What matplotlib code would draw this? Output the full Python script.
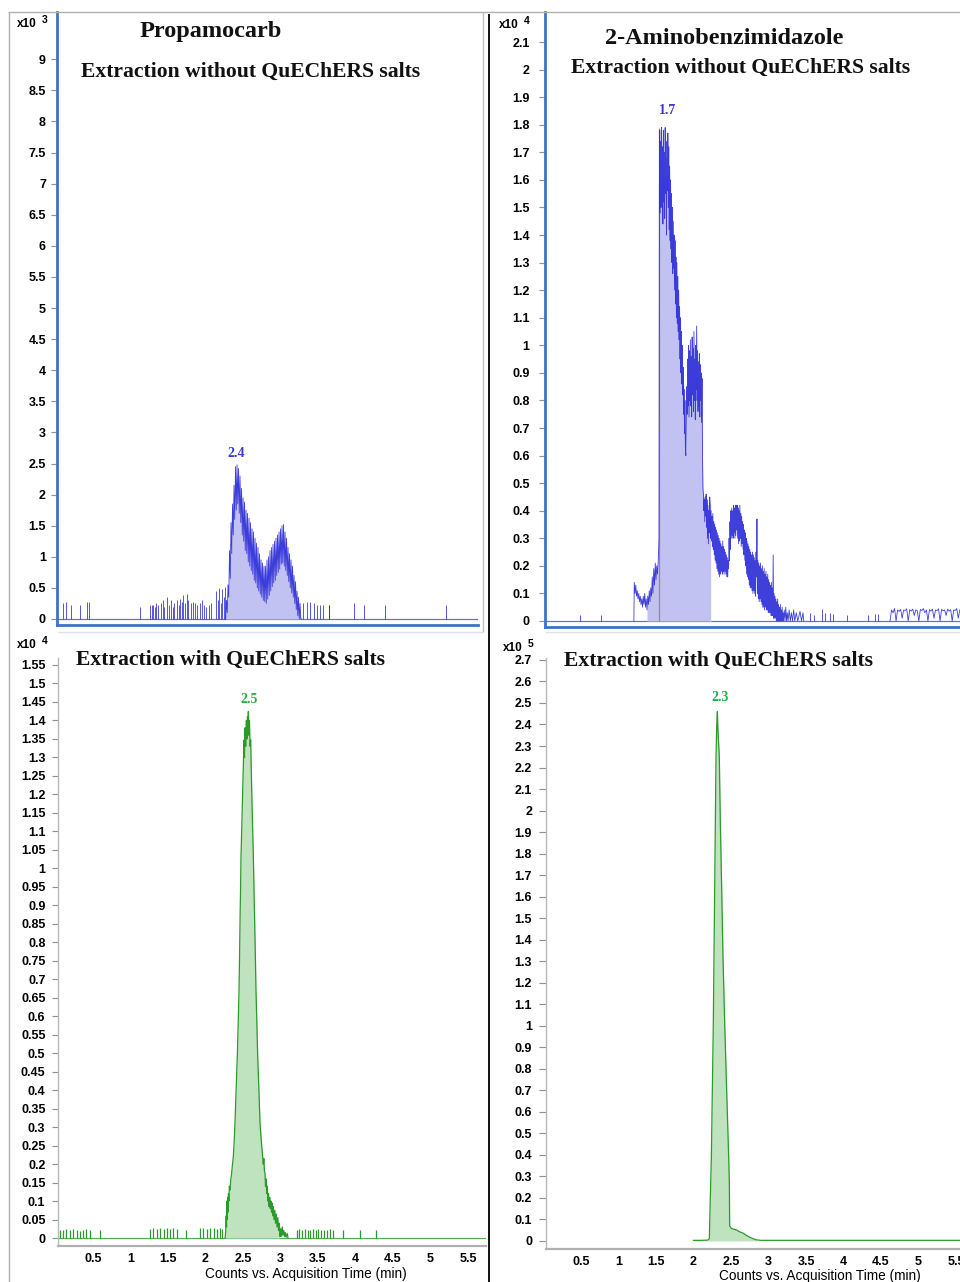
import numpy as np
import matplotlib
matplotlib.use("Agg")
import matplotlib.pyplot as plt
from matplotlib.lines import Line2D

plt.rcParams['font.family'] = ['Liberation Sans', 'DejaVu Sans']

W, H = 960, 1282

# ---------------------------------------------------------------- data
x_ticks = [0.5, 1, 1.5, 2, 2.5, 3, 3.5, 4, 4.5, 5, 5.5]

# Propamocarb, extraction without QuEChERS salts (counts x10^3)
tl_spike_t = [0.10, 0.14, 0.20, 0.33, 0.42, 0.45, 1.13, 1.26, 1.28, 1.30, 1.32, 1.34,
              1.36, 1.40, 1.43, 1.45, 1.49, 1.51, 1.54, 1.56, 1.58, 1.62, 1.64, 1.66,
              1.68, 1.70, 1.72, 1.75, 1.77, 1.80, 1.83, 1.86, 1.89, 1.92, 1.95, 1.98,
              2.01, 2.04, 2.07, 2.14, 2.16, 2.18, 2.20, 2.22, 2.24, 2.26, 3.30, 3.35,
              3.39, 3.44, 3.48, 3.52, 3.56, 3.64, 3.65, 3.98, 4.11, 4.39, 5.20]
tl_spike_h = [0.25, 0.27, 0.22, 0.22, 0.27, 0.27, 0.20, 0.22, 0.22, 0.22, 0.20, 0.25,
              0.22, 0.25, 0.30, 0.20, 0.35, 0.22, 0.30, 0.20, 0.25, 0.30, 0.22, 0.32,
              0.28, 0.38, 0.25, 0.40, 0.30, 0.25, 0.28, 0.25, 0.22, 0.25, 0.30, 0.22,
              0.20, 0.22, 0.25, 0.45, 0.30, 0.50, 0.25, 0.48, 0.35, 0.52, 0.25, 0.27,
              0.27, 0.25, 0.22, 0.22, 0.22, 0.22, 0.22, 0.25, 0.22, 0.22, 0.22]
tl_peak_start, tl_peak_end = 2.27, 3.28
tl_peak_v = [0.00, 0.30, 0.10, 0.55, 0.35, 1.10, 0.65, 1.55, 1.05, 1.85,
             1.35, 2.15, 1.60, 2.45, 1.75, 2.48, 1.85, 2.42, 1.70, 2.30,
             1.55, 2.10, 1.35, 1.95, 1.25, 1.88, 1.10, 1.75, 1.05, 1.70,
             0.92, 1.62, 0.85, 1.55, 0.78, 1.45, 0.72, 1.40, 0.62, 1.30,
             0.58, 1.22, 0.50, 1.15, 0.45, 1.05, 0.40, 0.95, 0.35, 0.90,
             0.30, 0.85, 0.28, 0.85, 0.25, 0.95, 0.32, 1.00, 0.38, 1.10,
             0.45, 1.15, 0.52, 1.20, 0.58, 1.25, 0.62, 1.30, 0.70, 1.35,
             0.75, 1.40, 0.80, 1.45, 0.88, 1.50, 0.90, 1.52, 0.85, 1.40,
             0.78, 1.30, 0.70, 1.15, 0.60, 1.05, 0.50, 0.95, 0.42, 0.85,
             0.35, 0.70, 0.25, 0.60, 0.15, 0.45, 0.05, 0.35, 0.00, 0.25,
             0.00, 0.00]

# 2-Aminobenzimidazole, extraction without QuEChERS salts (counts x10^4)
tr_spike_t = [0.49, 0.76, 3.55, 3.60, 3.71, 3.75, 3.82, 3.86, 4.04, 4.33, 4.42, 4.46]
tr_spike_h = [0.02, 0.02, 0.03, 0.02, 0.045, 0.03, 0.03, 0.025, 0.02, 0.02, 0.025, 0.025]
tr_t = [1.205, 1.21, 1.22, 1.23, 1.24, 1.25, 1.26, 1.27, 1.28, 1.29, 1.30, 1.31, 1.32,
        1.33, 1.34, 1.35, 1.36, 1.37, 1.38, 1.39, 1.40, 1.41, 1.42, 1.43, 1.44, 1.45,
        1.46, 1.47, 1.48, 1.49, 1.50, 1.51, 1.52, 1.53, 1.54, 1.545,
        1.55, 1.556, 1.562, 1.568, 1.574, 1.580, 1.586, 1.592, 1.598, 1.604, 1.610,
        1.616, 1.622, 1.628, 1.634, 1.640, 1.646, 1.652, 1.658, 1.664, 1.670, 1.676,
        1.682, 1.688, 1.694, 1.700, 1.706, 1.712, 1.718, 1.724, 1.730, 1.736, 1.742,
        1.748, 1.754, 1.760, 1.766, 1.772, 1.778, 1.784, 1.790, 1.796, 1.802, 1.808,
        1.814, 1.820, 1.826, 1.832, 1.838, 1.844, 1.850, 1.856, 1.862, 1.868, 1.874,
        1.880, 1.886, 1.892, 1.898, 1.904, 1.910, 1.916, 1.922, 1.928, 1.934, 1.940,
        1.946, 1.952, 1.958, 1.964, 1.970, 1.976, 1.982, 1.988, 1.994, 2.000, 2.006,
        2.012, 2.018, 2.024, 2.030, 2.036, 2.042, 2.048, 2.054, 2.060, 2.066, 2.072,
        2.078, 2.084, 2.090, 2.096, 2.102, 2.108, 2.114, 2.120, 2.126, 2.132, 2.138,
        2.144, 2.150, 2.156, 2.162, 2.168, 2.174, 2.180, 2.186, 2.192, 2.198, 2.204,
        2.210, 2.216, 2.222, 2.228, 2.234, 2.240, 2.246, 2.252, 2.258, 2.264, 2.270,
        2.276, 2.282, 2.288, 2.294, 2.300, 2.306, 2.312, 2.318, 2.324, 2.330, 2.336,
        2.342, 2.348, 2.354, 2.360, 2.366, 2.372, 2.378, 2.384, 2.390, 2.396, 2.402,
        2.408, 2.414, 2.420, 2.426, 2.432, 2.438, 2.444, 2.450, 2.456, 2.462, 2.468,
        2.474, 2.480, 2.486, 2.492, 2.498, 2.504, 2.510, 2.516, 2.522, 2.528, 2.534,
        2.540, 2.546, 2.552, 2.558, 2.564, 2.570, 2.576, 2.582, 2.588, 2.594, 2.600,
        2.606, 2.612, 2.618, 2.624, 2.630, 2.636, 2.642, 2.648, 2.654, 2.660, 2.666,
        2.672, 2.678, 2.684, 2.690, 2.696, 2.702, 2.708, 2.714, 2.720, 2.726, 2.732,
        2.738, 2.744, 2.750, 2.756, 2.762, 2.768, 2.774, 2.780, 2.786, 2.792, 2.798,
        2.804, 2.810, 2.816, 2.822, 2.828, 2.834, 2.840, 2.846, 2.852, 2.858, 2.864,
        2.870, 2.876, 2.882, 2.888, 2.894, 2.900, 2.906, 2.912, 2.918, 2.924, 2.930,
        2.936, 2.942, 2.948, 2.954, 2.960, 2.966, 2.972, 2.978, 2.984, 2.990, 2.996,
        3.002, 3.008, 3.014, 3.020, 3.026, 3.032, 3.038, 3.044, 3.050, 3.056, 3.062,
        3.068, 3.074, 3.080, 3.086, 3.092, 3.098, 3.104, 3.110, 3.116, 3.122, 3.128,
        3.134, 3.140, 3.146, 3.152, 3.158, 3.164, 3.170, 3.176, 3.182, 3.188, 3.194,
        3.200, 3.210, 3.220, 3.230, 3.240, 3.250, 3.260, 3.275, 3.290, 3.305, 3.320,
        3.335, 3.350, 3.370, 3.390, 3.420, 3.440, 3.460, 3.470]
tr_v = [0.00, 0.14, 0.10, 0.13, 0.09, 0.11, 0.08, 0.10, 0.07, 0.09, 0.06, 0.08, 0.05,
        0.09, 0.06, 0.10, 0.05, 0.08, 0.04, 0.09, 0.06, 0.11, 0.07, 0.12, 0.09, 0.16,
        0.10, 0.19, 0.13, 0.21, 0.15, 0.20, 0.17, 0.22, 0.30, 1.60,
        1.78, 1.48, 1.74, 1.50, 1.79, 1.55, 1.72, 1.44, 1.78, 1.52, 1.70,
        1.46, 1.79, 1.55, 1.68, 1.40, 1.74, 1.56, 1.77, 1.50, 1.72, 1.42,
        1.65, 1.38, 1.60, 1.35, 1.55, 1.30, 1.50, 1.26, 1.45, 1.28, 1.40,
        1.20, 1.38, 1.15, 1.32, 1.10, 1.30, 1.08, 1.25, 1.05, 1.20, 1.02,
        1.14, 0.95, 1.10, 0.90, 1.05, 0.86, 1.00, 0.82, 0.92, 0.75, 0.84,
        0.68, 0.80, 0.62, 0.60, 0.72, 0.85, 0.75, 0.95, 0.78, 1.00, 0.74,
        0.98, 0.80, 1.02, 0.78, 0.96, 0.74, 1.03, 0.82, 0.99, 0.76, 1.05,
        0.80, 0.95, 0.73, 1.00, 0.84, 1.07, 0.80, 0.98, 0.76, 0.94, 0.78,
        0.97, 0.74, 0.93, 0.80, 0.90, 0.72, 0.88, 0.60, 0.48, 0.46, 0.40,
        0.44, 0.36, 0.45, 0.38, 0.46, 0.34, 0.44, 0.30, 0.42, 0.28, 0.40,
        0.32, 0.45, 0.42, 0.30, 0.40, 0.29, 0.38, 0.27, 0.39, 0.26, 0.36,
        0.24, 0.35, 0.22, 0.34, 0.21, 0.33, 0.19, 0.32, 0.18, 0.31, 0.17,
        0.30, 0.16, 0.29, 0.17, 0.28, 0.18, 0.27, 0.17, 0.29, 0.18, 0.27,
        0.17, 0.26, 0.18, 0.25, 0.17, 0.24, 0.16, 0.23, 0.16, 0.22, 0.19,
        0.30, 0.22, 0.36, 0.26, 0.40, 0.30, 0.41, 0.31, 0.40, 0.30, 0.42,
        0.32, 0.41, 0.30, 0.42, 0.31, 0.42, 0.33, 0.42, 0.30, 0.41, 0.28,
        0.40, 0.29, 0.42, 0.30, 0.39, 0.27, 0.38, 0.28, 0.36, 0.26, 0.35,
        0.24, 0.33, 0.22, 0.32, 0.20, 0.30, 0.17, 0.29, 0.16, 0.28, 0.15,
        0.27, 0.13, 0.26, 0.12, 0.25, 0.12, 0.24, 0.11, 0.25, 0.10, 0.24,
        0.11, 0.23, 0.10, 0.22, 0.09, 0.25, 0.16, 0.37, 0.10, 0.22, 0.08,
        0.21, 0.07, 0.20, 0.08, 0.21, 0.07, 0.19, 0.06, 0.20, 0.05, 0.18,
        0.05, 0.19, 0.04, 0.17, 0.05, 0.18, 0.04, 0.16, 0.04, 0.17, 0.03,
        0.15, 0.03, 0.14, 0.03, 0.13, 0.02, 0.14, 0.02, 0.12, 0.02, 0.24,
        0.01, 0.10, 0.01, 0.09, 0.01, 0.08, 0.00, 0.07, 0.00, 0.08, 0.00,
        0.06, 0.00, 0.05, 0.00, 0.06, 0.00, 0.04, 0.00, 0.05, 0.00, 0.03,
        0.00, 0.04, 0.00, 0.05, 0.00, 0.03, 0.00, 0.04, 0.00, 0.03, 0.00,
        0.04, 0.00, 0.03, 0.00, 0.035, 0.00, 0.03, 0.00]
tr_fill_from, tr_fill_to = 1.38, 2.222
tr_marker_t = 1.545
tr_band_start, tr_band_end = 4.62, 5.55
tr_band_v = [0.00, 0.040, 0.030, 0.045, 0.000, 0.040, 0.035, 0.042, 0.010, 0.040,
             0.038, 0.044, 0.000, 0.041, 0.036, 0.043, 0.020, 0.040, 0.037, 0.000,
             0.042, 0.038, 0.045, 0.030, 0.040, 0.000, 0.041, 0.036, 0.043, 0.010,
             0.040, 0.038, 0.044, 0.000, 0.042, 0.037, 0.040, 0.020, 0.043, 0.036,
             0.041, 0.000, 0.040, 0.038, 0.045, 0.010, 0.040]

# Propamocarb, extraction with QuEChERS salts (counts x10^4)
bl_spike_t = [0.06, 0.10, 0.14, 0.19, 0.23, 0.28, 0.32, 0.37, 0.41, 0.46, 0.59,
              1.26, 1.30, 1.35, 1.39, 1.44, 1.48, 1.53, 1.57, 1.62, 1.74,
              1.93, 1.97, 2.02, 2.06, 2.11, 2.15, 2.19, 2.22,
              3.22, 3.25, 3.29, 3.32, 3.36, 3.39, 3.43, 3.47, 3.50, 3.54, 3.58,
              3.62, 3.66, 3.70, 3.83, 4.06, 4.27]
bl_spike_h = [0.022, 0.022, 0.024, 0.022, 0.024, 0.022, 0.020, 0.022, 0.024, 0.022, 0.022,
              0.025, 0.027, 0.025, 0.027, 0.024, 0.026, 0.025, 0.027, 0.024, 0.022,
              0.026, 0.027, 0.025, 0.027, 0.026, 0.024, 0.026, 0.025,
              0.022, 0.024, 0.022, 0.024, 0.022, 0.023, 0.024, 0.022, 0.024, 0.022,
              0.023, 0.022, 0.024, 0.022, 0.022, 0.022, 0.022]
bl_t = [2.262, 2.270, 2.276, 2.280, 2.286, 2.290, 2.296, 2.300, 2.306, 2.312, 2.318,
        2.327, 2.338, 2.349, 2.360, 2.371, 2.382, 2.393, 2.408, 2.424, 2.436, 2.447,
        2.454, 2.460, 2.467, 2.473, 2.485, 2.496, 2.505, 2.513, 2.520, 2.528, 2.536,
        2.545, 2.552, 2.560, 2.566, 2.571, 2.578, 2.586, 2.594, 2.602, 2.609, 2.616,
        2.627, 2.638, 2.647, 2.656, 2.665, 2.673, 2.685, 2.696, 2.712, 2.727, 2.745,
        2.762, 2.770, 2.778, 2.786, 2.793, 2.800, 2.808, 2.816, 2.824, 2.832, 2.840,
        2.848, 2.856, 2.864, 2.872, 2.880, 2.888, 2.896, 2.904, 2.914, 2.924, 2.934,
        2.944, 2.954, 2.964, 2.974, 2.984, 2.994, 3.004, 3.014, 3.024, 3.034, 3.044,
        3.054, 3.064, 3.074, 3.090, 3.100]
bl_v = [0.000, 0.020, 0.060, 0.030, 0.100, 0.050, 0.110, 0.070, 0.120, 0.100, 0.140,
        0.130, 0.160, 0.176, 0.200, 0.220, 0.260, 0.310, 0.400, 0.490, 0.580, 0.671,
        0.760, 0.851, 0.940, 1.031, 1.120, 1.212, 1.280, 1.347, 1.300, 1.380, 1.330,
        1.400, 1.350, 1.410, 1.370, 1.424, 1.360, 1.400, 1.330, 1.347, 1.280, 1.212,
        1.120, 1.031, 0.940, 0.851, 0.760, 0.671, 0.580, 0.490, 0.400, 0.310, 0.260,
        0.220, 0.200, 0.215, 0.180, 0.176, 0.140, 0.160, 0.120, 0.140, 0.100, 0.120,
        0.085, 0.110, 0.080, 0.100, 0.070, 0.095, 0.060, 0.085, 0.050, 0.075, 0.040,
        0.065, 0.030, 0.055, 0.020, 0.040, 0.004, 0.025, 0.005, 0.030, 0.008, 0.020,
        0.004, 0.015, 0.002, 0.012, 0.000]
bl_fill_to = 2.99

# 2-Aminobenzimidazole, extraction with QuEChERS salts (counts x10^5)
br_t = [2.00, 2.10, 2.19, 2.211, 2.229, 2.238, 2.251, 2.264, 2.273, 2.282, 2.291,
        2.300, 2.310, 2.318, 2.325, 2.344, 2.358, 2.376, 2.393, 2.416, 2.442, 2.469,
        2.478, 2.482, 2.500, 2.530, 2.576, 2.600, 2.620, 2.664, 2.700, 2.753, 2.800,
        2.843, 2.900, 3.500, 4.500, 5.600]
br_v = [0.003, 0.003, 0.004, 0.010, 0.270, 0.390, 0.700, 1.010, 1.320, 1.630, 1.940,
        2.250, 2.400, 2.460, 2.380, 2.250, 1.940, 1.630, 1.320, 1.010, 0.700, 0.390,
        0.270, 0.070, 0.060, 0.055, 0.051, 0.045, 0.042, 0.036, 0.027, 0.017, 0.010,
        0.005, 0.003, 0.003, 0.003, 0.003]
br_fill_to = 2.85

# ---------------------------------------------------------------- styling
BLUE = '#2a2ad8'
BLUE_FILL = '#c2c2f2'
BLUE_BASE = '#6b6be6'
BLUE_SPINE = '#3d72c9'
BLUE_LABEL = '#3a3ad2'
GREEN = '#2b9a2b'
GREEN_FILL = '#bfe2bf'
GREEN_LABEL = '#21b043'

fig = plt.figure(figsize=(W / 100, H / 100), dpi=100)


def fx(x):
    return x / W


def fy(y):
    return 1 - y / H


def make_axes(left, right, top, bottom):
    return fig.add_axes([fx(left), fy(bottom), fx(right) - fx(left), fy(top) - fy(bottom)])


def fig_line(x0, y0, x1, y1, color, lw):
    fig.add_artist(Line2D([fx(x0), fx(x1)], [fy(y0), fy(y1)], transform=fig.transFigure,
                          color=color, lw=lw, solid_capstyle='butt'))


def fmt(v):
    return f"{round(v, 3):g}"


def style_y(ax, ticks, length, pad):
    ax.set_yticks(ticks, labels=[fmt(v) for v in ticks], fontsize=9, fontweight='bold')
    ax.tick_params(axis='y', length=length, pad=pad, color='#909090', width=0.8)


def style_x(ax):
    ax.set_xticks(x_ticks, labels=[fmt(v) for v in x_ticks], fontsize=9, fontweight='bold')
    ax.tick_params(axis='x', length=0, pad=5)


def exponent(x, y, power):
    fig.text(fx(x), fy(y), 'x10', fontsize=8.5, fontweight='bold', ha='left', va='center')
    fig.text(fx(x + 25), fy(y - 4), power, fontsize=7.5, fontweight='bold',
             ha='left', va='center')


ax_tl = make_axes(57, 478, 12, 625)
ax_tr = make_axes(545, 960, 12, 627)
ax_bl = make_axes(58, 486, 658, 1246)
ax_br = make_axes(546, 960, 658, 1249)

for ax in (ax_tl, ax_tr, ax_bl, ax_br):
    ax.patch.set_alpha(0)
    ax.spines['top'].set_visible(False)
    ax.spines['right'].set_visible(False)

# top panels: blue frame on left and bottom, no x labels
for ax in (ax_tl, ax_tr):
    for side in ('left', 'bottom'):
        ax.spines[side].set_color(BLUE_SPINE)
        ax.spines[side].set_linewidth(2.0)
    ax.set_xticks([])

# bottom panels: light grey axes
for ax in (ax_bl, ax_br):
    ax.spines['left'].set_color('#b8b8b8')
    ax.spines['left'].set_linewidth(1.0)
    ax.spines['bottom'].set_color('#b0b0b0')
    ax.spines['bottom'].set_linewidth(1.6)
    style_x(ax)

# ---- Propamocarb without salts
ax = ax_tl
ax.set_xlim(0.02, 5.633)
ax.set_ylim(-0.0965, 9.759)
style_y(ax, np.arange(0, 9.01, 0.5), 4, 4)
ax.axhline(0, color=BLUE_BASE, lw=0.9, zorder=1)
ax.vlines(tl_spike_t, 0, tl_spike_h, color=BLUE, lw=0.7, alpha=0.8)
tl_t = np.linspace(tl_peak_start, tl_peak_end, len(tl_peak_v))
ax.fill_between(tl_t, 0, tl_peak_v, color=BLUE_FILL, lw=0, zorder=1)
ax.plot(tl_t, tl_peak_v, color=BLUE, lw=0.6, alpha=0.9, zorder=2)
i = int(np.argmax(tl_peak_v))
ax.annotate('2.4', xy=(tl_t[i], tl_peak_v[i]), xytext=(-1, 11), textcoords='offset pixels',
            ha='center', va='center', fontsize=10, fontweight='bold',
            family='Liberation Serif', color=BLUE_LABEL)

# ---- 2-Aminobenzimidazole without salts
ax = ax_tr
ax.set_xlim(0.02, 5.553)
ax.set_ylim(-0.0218, 2.209)
style_y(ax, np.arange(0, 2.101, 0.1), 4, 7)
ax.axhline(0, color=BLUE_BASE, lw=0.9, zorder=1)
ax.vlines(tr_spike_t, 0, tr_spike_h, color=BLUE, lw=0.7, alpha=0.8)
tr_t_arr = np.array(tr_t)
tr_v_arr = np.array(tr_v)
inside = (tr_t_arr >= tr_fill_from) & (tr_t_arr <= tr_fill_to)
ax.fill_between(tr_t_arr[inside], 0, tr_v_arr[inside], color=BLUE_FILL, lw=0, zorder=1)
ax.plot([tr_fill_to, tr_fill_to], [0, tr_v_arr[inside][-1]], color=BLUE_FILL, lw=1.0)
ax.plot(tr_t_arr, tr_v_arr, color=BLUE, lw=0.6, alpha=0.9, zorder=2)
ax.vlines(tr_marker_t, 0, tr_v_arr.max(), color='#8a8a9a', lw=0.9, zorder=1.5)
band_t = np.linspace(tr_band_start, tr_band_end, len(tr_band_v))
ax.plot(band_t, tr_band_v, color=BLUE, lw=0.6, alpha=0.9)
i = int(np.argmax(tr_v_arr))
ax.annotate('1.7', xy=(tr_t_arr[i], tr_v_arr[i]), xytext=(6, 17), textcoords='offset pixels',
            ha='center', va='center', fontsize=10, fontweight='bold',
            family='Liberation Serif', color=BLUE_LABEL)

# ---- Propamocarb with salts
ax = ax_bl
ax.set_xlim(0.0333, 5.74)
ax.set_ylim(-0.0216, 1.5689)
style_y(ax, np.arange(0, 1.5501, 0.05), 4, 5)
ax.axhline(0, color=GREEN, lw=0.8, alpha=0.8, zorder=1)
ax.vlines(bl_spike_t, 0, bl_spike_h, color=GREEN, lw=0.9)
bl_t_arr = np.array(bl_t)
bl_v_arr = np.array(bl_v)
inside = bl_t_arr <= bl_fill_to
ax.fill_between(bl_t_arr[inside], 0, bl_v_arr[inside], color=GREEN_FILL, lw=0, zorder=1)
ax.plot(bl_t_arr, bl_v_arr, color=GREEN, lw=0.9, zorder=2)
i = int(np.argmax(bl_v_arr))
ax.annotate('2.5', xy=(bl_t_arr[i], bl_v_arr[i]), xytext=(1, 12), textcoords='offset pixels',
            ha='center', va='center', fontsize=10, fontweight='bold',
            family='Liberation Serif', color=GREEN_LABEL)

# ---- 2-Aminobenzimidazole with salts
ax = ax_br
ax.set_xlim(0.0333, 5.553)
ax.set_ylim(-0.0372, 2.709)
style_y(ax, np.arange(0, 2.701, 0.1), 5, 5)
br_t_arr = np.array(br_t)
br_v_arr = np.array(br_v)
inside = br_t_arr <= br_fill_to
ax.fill_between(br_t_arr[inside], 0, br_v_arr[inside], color=GREEN_FILL, lw=0, zorder=1)
ax.plot(br_t_arr, br_v_arr, color=GREEN, lw=0.9, zorder=2)
i = int(np.argmax(br_v_arr))
ax.annotate('2.3', xy=(br_t_arr[i], br_v_arr[i]), xytext=(3, 14), textcoords='offset pixels',
            ha='center', va='center', fontsize=10, fontweight='bold',
            family='Liberation Serif', color=GREEN_LABEL)

# ---- frames
fig_line(8, 12, 960, 12, '#b0b0b0', 1.0)
fig_line(8.5, 12, 8.5, H, '#b0b0b0', 1.0)
fig_line(483, 12, 483, 632, '#c0c0c0', 1.0)
fig_line(58, 632, 483, 632, '#e0e0e0', 1.0)
fig_line(545, 632, 960, 632, '#e0e0e0', 1.0)
fig_line(489, 14, 489, H, '#111111', 1.4)

# ---- titles
serif = dict(family='Liberation Serif', fontweight='bold', color='#111111')
fig.text(fx(211), fy(32), 'Propamocarb', fontsize=17.5, ha='center', va='center', **serif)
fig.text(fx(251), fy(72), 'Extraction without QuEChERS salts', fontsize=15.6,
         ha='center', va='center', **serif)
fig.text(fx(724), fy(38), '2-Aminobenzimidazole', fontsize=17.5, ha='center',
         va='center', **serif)
fig.text(fx(741), fy(68), 'Extraction without QuEChERS salts', fontsize=15.6,
         ha='center', va='center', **serif)
fig.text(fx(230), fy(660), 'Extraction with QuEChERS salts', fontsize=15.6,
         ha='center', va='center', **serif)
fig.text(fx(719), fy(661), 'Extraction with QuEChERS salts', fontsize=15.6,
         ha='center', va='center', **serif)

exponent(17, 24, '3')
exponent(499, 25, '4')
exponent(17, 645, '4')
exponent(503, 648, '5')

fig.text(fx(306), fy(1274), 'Counts vs. Acquisition Time (min)', fontsize=9.8,
         ha='center', va='center')
fig.text(fx(820), fy(1276), 'Counts vs. Acquisition Time (min)', fontsize=9.8,
         ha='center', va='center')

fig.savefig('out.png', dpi=100)
